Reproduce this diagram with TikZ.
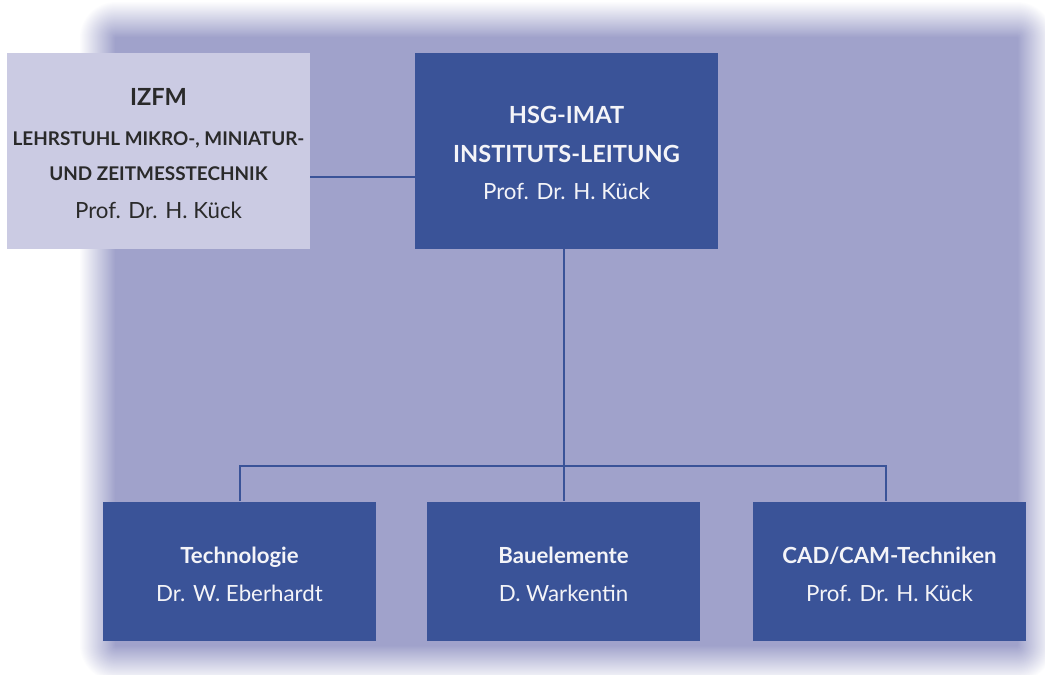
\documentclass[tikz,border=0pt]{standalone}
\usepackage{fontspec}
\setmainfont{Lato}
\definecolor{bgcol}{HTML}{A0A2CB}
\definecolor{boxblue}{HTML}{3A5398}
\definecolor{boxlight}{HTML}{CBCBE3}
\definecolor{darktext}{HTML}{2A2A2A}
\definecolor{whitetext}{HTML}{F4F4F8}
\tikzset{
  bluebox/.style={fill=boxblue, draw=none, inner sep=0pt, minimum width=273pt, minimum height=139pt},
  bigbox/.style={inner sep=0pt, draw=none, minimum width=303pt, minimum height=196pt},
  link/.style={draw=boxblue, line width=2pt},
  headtxt/.style={anchor=base, inner sep=0pt, font=\fontsize{22.2}{26}\selectfont\bfseries},
  headcaps/.style={anchor=base, inner sep=0pt, font=\fontsize{23.6}{28}\selectfont\bfseries},
  captxt/.style={anchor=base, inner sep=0pt, font=\fontsize{18.9}{22}\selectfont\bfseries},
  nametxt/.style={anchor=base, inner sep=0pt, font=\fontsize{22.3}{26}\selectfont},
}
\begin{document}
\begin{tikzpicture}[x=1pt,y=-1pt]
\useasboundingbox (0,0) rectangle (1045,675);
% blurred background (linear fade built from layers)
\foreach \k [evaluate=\k as \a using {1/(37-\k)}] in {1,...,36}{
  \fill[bgcol, opacity=\a, rounded corners={(37-\k)*1pt}] ({80+\k-1},{2+\k-1}) rectangle ({1053-\k+1},{681-\k+1});
}
\fill[bgcol] (116,38) rectangle (1017,645);
% boxes
\node[bigbox, fill=boxlight] (izfm) at (158.5,151) {};
\node[bigbox, fill=boxblue] (hsg) at (566.5,151) {};
\node[bluebox] (tech) at (239.5,571) {};
\node[bluebox] (bau) at (563.5,571) {};
\node[bluebox] (cad) at (889.5,571) {};
% connectors
\coordinate (bus) at (563.5,466);
\coordinate (busl) at (240,466);
\coordinate (busr) at (886,466);
\draw[link] (izfm.east |- 0,177) -- (hsg.west |- 0,177);
\draw[link] (hsg.south -| bus) -- (bus);
\draw[link] (tech.north -| busl) -- (busl) -- (busr) -- (cad.north -| busr);
\draw[link] (bus) -- (bau.north);
% texts
\node[headcaps, text=darktext] (t1) at (158.5,105) {IZFM};
\node[captxt, text=darktext] (t2) at (158.5,145) {LEHRSTUHL MIKRO-, MINIATUR-};
\node[captxt, text=darktext] (t3) at (158.5,180) {UND ZEITMESSTECHNIK};
\node[nametxt, text=darktext] (t4) at (158.5,218) {Prof. Dr. H. Kück};
\node[headcaps, text=whitetext] (h1) at (566.5,123) {HSG-IMAT};
\node[headcaps, text=whitetext] (h2) at (566.5,162) {INSTITUTS-LEITUNG};
\node[nametxt, text=whitetext] (h3) at (566.5,199) {Prof. Dr. H. Kück};
\node[headtxt, text=whitetext] (a1) at (239.5,563) {Technologie};
\node[nametxt, text=whitetext] (a2) at (239.5,601) {Dr. W. Eberhardt};
\node[headtxt, text=whitetext] (b1) at (563.5,563) {Bauelemente};
\node[nametxt, text=whitetext] (b2) at (563.5,601) {D. Warkentin};
\node[headtxt, text=whitetext] (c1) at (889.5,563) {CAD/CAM-Techniken};
\node[nametxt, text=whitetext] (c2) at (889.5,601) {Prof. Dr. H. Kück};
\end{tikzpicture}
\end{document}
